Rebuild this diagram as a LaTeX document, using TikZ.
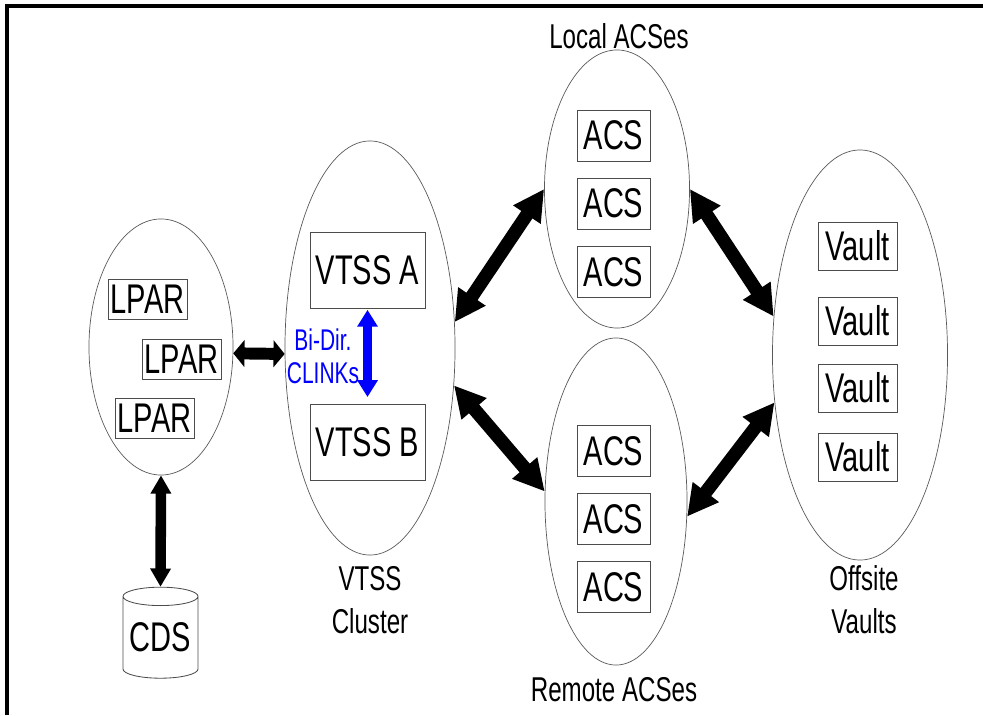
\documentclass[tikz,border=0pt]{standalone}
\usepackage{fontspec}
\setmainfont{Liberation Sans}[FakeStretch=0.7]
\usetikzlibrary{arrows.meta,shapes.geometric}

\tikzset{
    ring/.style={ellipse, draw=black!65, line width=0.5pt, inner sep=0pt},
    unit/.style={rectangle, draw=black!70, line width=0.6pt, inner sep=0pt, font=\fontsize{29.5pt}{30pt}\selectfont},
    tag/.style={align=center, font=\fontsize{24.5pt}{30.6pt}\selectfont},
    fatlink/.style n args={3}{line width=#1, {Triangle[length=#2,width=#3]}-{Triangle[length=#2,width=#3]}},
}

\begin{document}
\begin{tikzpicture}[x=0.025cm, y=-0.025cm]
                % Frame:
                \useasboundingbox (0,0) rectangle (983,715);
                \draw[line width=2.2pt] (7,715) -- (7,6) -- (983,6);
                % Groups:
                \node[ring, minimum width=3.6cm, minimum height=6.4cm] (lparring) at (161,347) {};
                \node[ring, minimum width=4.25cm, minimum height=10.35cm] (vtssring) at (370,348) {};
                \node[ring, minimum width=3.625cm, minimum height=6.95cm] (localring) at (617,189) {};
                \node[ring, minimum width=3.55cm, minimum height=8.175cm] (remotering) at (616,501.5) {};
                \node[ring, minimum width=4.375cm, minimum height=10.25cm] (vaultring) at (860,355) {};
                % Boxes:
                \node[unit, minimum width=1.975cm, minimum height=1cm] (lpara) at (147.5,299) {LPAR};
                \node[unit, minimum width=1.975cm, minimum height=1cm] (lparb) at (181.5,359) {LPAR};
                \node[unit, minimum width=1.975cm, minimum height=1cm] (lparc) at (154.5,418) {LPAR};
                \node[unit, minimum width=2.875cm, minimum height=1.9cm] (vtssa) at (367.5,270) {VTSS A};
                \node[unit, minimum width=2.875cm, minimum height=1.9cm] (vtssb) at (367.5,442.5) {VTSS B};
                \node[unit, minimum width=1.825cm, minimum height=1.275cm] (acsa) at (613.5,135.5) {ACS};
                \node[unit, minimum width=1.825cm, minimum height=1.275cm] (acsb) at (613.5,203.5) {ACS};
                \node[unit, minimum width=1.825cm, minimum height=1.275cm] (acsc) at (613.5,272) {ACS};
                \node[unit, minimum width=1.825cm, minimum height=1.275cm] (acsd) at (613.5,451) {ACS};
                \node[unit, minimum width=1.825cm, minimum height=1.275cm] (acse) at (613.5,519) {ACS};
                \node[unit, minimum width=1.825cm, minimum height=1.275cm] (acsf) at (613.5,587) {ACS};
                \node[unit, minimum width=1.975cm, minimum height=1.2cm] (vaulta) at (857.5,246) {Vault};
                \node[unit, minimum width=1.975cm, minimum height=1.2cm] (vaultb) at (857.5,321) {Vault};
                \node[unit, minimum width=1.975cm, minimum height=1.2cm] (vaultc) at (857.5,388) {Vault};
                \node[unit, minimum width=1.975cm, minimum height=1.2cm] (vaultd) at (857.5,457) {Vault};
                \node[unit, cylinder, shape border rotate=90, aspect=0.3, minimum width=1.875cm, minimum height=2.275cm] (cds) at (160.5,637.5) {CDS};
                % Texts:
                \node[tag] (localtag) at (619,36) {Local ACSes};
                \node[tag] (remotetag) at (614,690) {Remote ACSes};
                \node[tag] (clustertag) at (370,600) {VTSS\\Cluster};
                \node[tag] (vaulttag) at (864,600) {Offsite\\Vaults};
                \node[tag, blue, font=\fontsize{21.3pt}{23.5pt}\selectfont] (clinktag) at (323,356) {Bi-Dir.\\CLINKs};
                % Links:
                \draw[fatlink={8.5pt}{8pt}{19pt}] (lparring.-5) -- (vtssring.184);
                \draw[fatlink={7.5pt}{13pt}{14pt}] (lparring.south) -- (cds.north);
                \draw[fatlink={7pt}{12pt}{14pt}, blue, shorten <=1pt, shorten >=5pt] (vtssa.south) -- (vtssb.north);
                \draw[fatlink={9.5pt}{22pt}{22pt}] (vtssring.17) -- (localring.west);
                \draw[fatlink={9.5pt}{22pt}{22pt}] (vtssring.-24) -- (remotering.172);
                \draw[fatlink={9.5pt}{22pt}{22pt}] (localring.east) -- (vaultring.156);
                \draw[fatlink={9.5pt}{22pt}{22pt}] (remotering.-12) -- (vaultring.209);
            \end{tikzpicture}
\end{document}
